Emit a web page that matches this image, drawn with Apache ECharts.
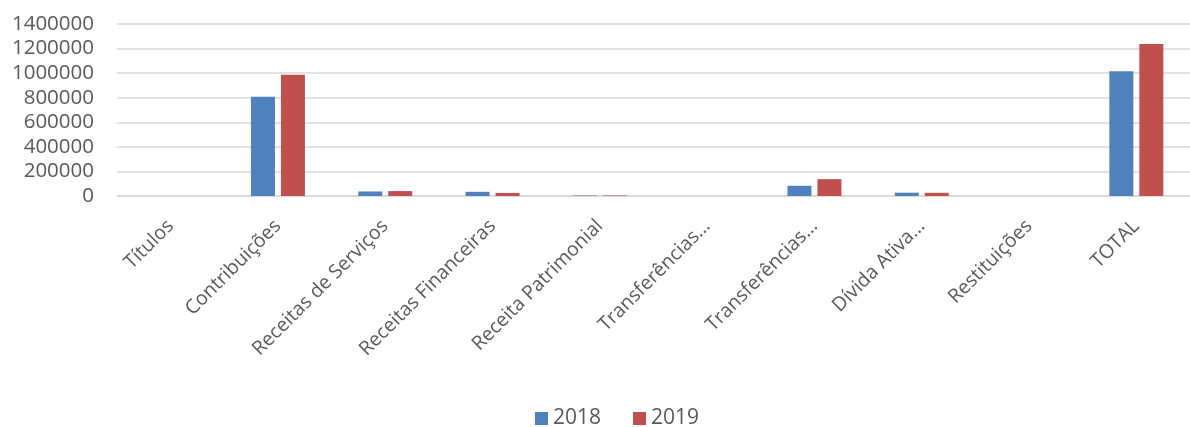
<!DOCTYPE html>
<html>
<head>
<meta charset="utf-8">
<script src="https://cdn.jsdelivr.net/npm/echarts@6/dist/echarts.min.js"></script>
<style>
html,body{margin:0;padding:0;background:#fff;}
#chart{width:1190px;height:427px;}
</style>
</head>
<body>
<div id="chart"></div>
<script>
var categories = ["Títulos", "Contribuições", "Receitas de Serviços", "Receitas Financeiras", "Receita Patrimonial", "Transferências…", "Transferências…", "Dívida Ativa…", "Restituições", "TOTAL"];
var seriesNames = ["2018", "2019"];
var values2018 = [0, 807000, 37000, 34000, 4000, 0, 83000, 27000, 0, 1016000];
var values2019 = [0, 986000, 40000, 25000, 4000, 0, 137000, 26000, 0, 1238000];
var yTicks = [0, 200000, 400000, 600000, 800000, 1000000, 1200000, 1400000];

var chart = echarts.init(document.getElementById('chart'), null, {renderer: 'canvas'});
var font = '"Open Sans", "DejaVu Sans", sans-serif';
chart.setOption({
  animation: false,
  textStyle: {fontFamily: font},
  color: ['#4F81BD', '#C0504D'],
  grid: {left: 117, right: -9, top: 24, bottom: 231, containLabel: false},
  legend: {
    data: seriesNames,
    left: 535,
    top: 408,
    padding: 0,
    itemWidth: 13,
    itemHeight: 13,
    itemGap: 32,
    icon: 'rect',
    textStyle: {fontSize: 21, color: '#595959', fontFamily: font}
  },
  xAxis: {
    type: 'category',
    data: categories,
    axisLine: {show: true, lineStyle: {color: '#D9D9D9', width: 1.5}},
    axisTick: {show: false},
    axisLabel: {
      rotate: 45,
      interval: 0,
      margin: 27,
      fontSize: 19.5,
      color: '#595959',
      fontFamily: font
    }
  },
  yAxis: {
    type: 'value',
    min: yTicks[0],
    max: yTicks[yTicks.length - 1],
    interval: 200000,
    axisLine: {show: false},
    axisTick: {show: false},
    splitLine: {lineStyle: {color: '#D9D9D9', width: 1.5}},
    axisLabel: {
      margin: 23,
      fontSize: 20.5,
      color: '#595959',
      fontFamily: font,
      formatter: function (v) { return String(v); }
    }
  },
  series: [
    {name: seriesNames[0], type: 'bar', data: values2018, barWidth: 24, barGap: '25%'},
    {name: seriesNames[1], type: 'bar', data: values2019, barWidth: 24, barGap: '25%'}
  ]
});
</script>
</body>
</html>
